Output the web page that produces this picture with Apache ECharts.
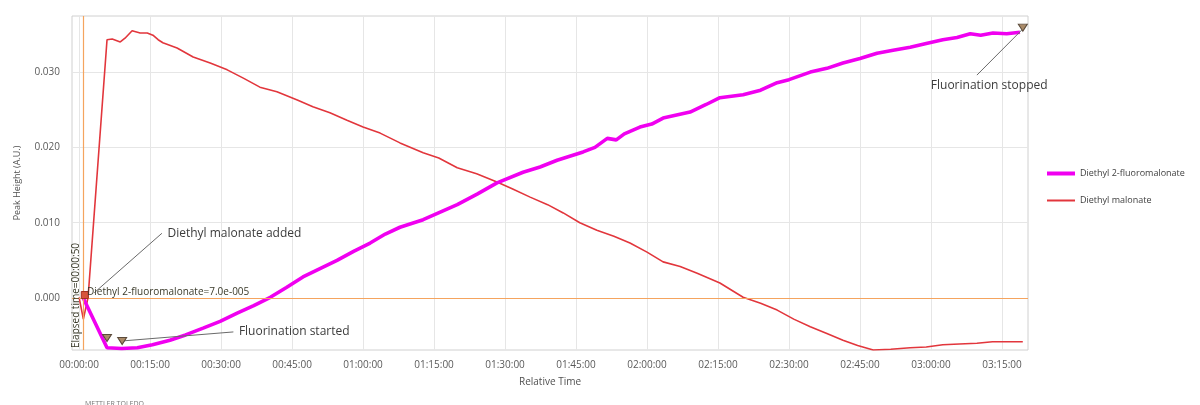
<!DOCTYPE html>
<html><head><meta charset="utf-8">
<script src="https://cdn.jsdelivr.net/npm/echarts@6/dist/echarts.min.js"></script>
<style>html,body{margin:0;padding:0;background:#fff}#c{width:1200px;height:405px}</style>
</head><body><div id="c"></div>
<script>
// ---------- data ----------
const seriesNames = ['Diethyl 2-fluoromalonate', 'Diethyl malonate'];
const xTickMinutes = [0, 15, 30, 45, 60, 75, 90, 105, 120, 135, 150, 165, 180, 195];
const xTickLabels = ['00:00:00','00:15:00','00:30:00','00:45:00','01:00:00','01:15:00','01:30:00',
  '01:45:00','02:00:00','02:15:00','02:30:00','02:45:00','03:00:00','03:15:00'];
const yTickValues = [0, 0.01, 0.02, 0.03];
const yTickLabels = ['0.000', '0.010', '0.020', '0.030'];

// Diethyl 2-fluoromalonate (minutes, A.U.)
const fluoroTime  = [0.83, 5.9, 9.0, 12.3, 15.5, 19.2, 22.5, 26.2, 29.8, 33.4, 36.9, 40.4, 43.8, 47.3, 50.9, 54.5, 58.0, 61.5, 64.7, 67.8,
  72.7, 76.3, 79.9, 84.1, 88.3, 93.8, 97.4, 101.0, 106.5, 109.0, 111.6, 113.5, 115.2, 118.5, 121.0, 123.4, 129.1, 132.5, 135.4, 140.3,
  144.0, 147.5, 150.0, 154.5, 158.0, 161.4, 165.0, 168.6, 172.0, 175.6, 179.0, 182.5, 185.5, 188.3, 190.5, 193.1, 196.0, 198.8];
const fluoroValue = [0.00007, -0.0066, -0.0067, -0.0066, -0.0062, -0.0056, -0.0049, -0.0040, -0.0031, -0.0020, -0.0010, 0.0001, 0.0014, 0.0028, 0.0039, 0.0050, 0.0062, 0.0073, 0.0085, 0.0094,
  0.0104, 0.0114, 0.0124, 0.0138, 0.0153, 0.0167, 0.0174, 0.0183, 0.0194, 0.0200, 0.0212, 0.0210, 0.0218, 0.0227, 0.0231, 0.0239, 0.0247, 0.0257, 0.0266, 0.0270,
  0.0276, 0.0286, 0.0290, 0.0300, 0.0305, 0.0312, 0.0318, 0.0325, 0.0329, 0.0333, 0.0338, 0.0343, 0.0346, 0.0351, 0.0349, 0.0352, 0.0351, 0.0353];

// Diethyl malonate (minutes, A.U.)
const malonateTime  = [0, 0.9, 1.9, 5.9, 7.0, 8.7, 9.7, 11.2, 12.9, 14.4, 15.6, 16.7, 17.7, 20.7, 24.1, 27.7, 31.3, 34.7, 38.2, 41.8,
  46.1, 49.4, 53.0, 56.6, 60.0, 63.6, 67.8, 72.7, 76.0, 79.9, 84.0, 88.3, 91.5, 95.3, 99.0, 102.3, 105.8, 109.4, 113.0, 116.4,
  120.0, 123.4, 127.0, 130.6, 135.4, 140.3, 144.0, 147.5, 151.0, 154.5, 158.0, 161.4, 164.5, 167.8, 171.5, 175.6, 179.0, 182.5, 186.0, 189.7, 193.0, 196.7, 199.4];
const malonateValue = [0.0001, -0.0028, 0.0001, 0.0343, 0.0344, 0.0340, 0.0345, 0.0355, 0.0352, 0.0352, 0.0349, 0.0343, 0.0339, 0.0332, 0.0320, 0.0312, 0.0303, 0.0292, 0.0280, 0.0274,
  0.0263, 0.0254, 0.0246, 0.0236, 0.0227, 0.0219, 0.0206, 0.0193, 0.0186, 0.0173, 0.0165, 0.0154, 0.0145, 0.0134, 0.0124, 0.0113, 0.0100, 0.0090, 0.0082, 0.0073,
  0.0061, 0.0048, 0.0042, 0.0033, 0.0020, 0.0001, -0.0007, -0.0016, -0.0028, -0.0038, -0.0047, -0.0056, -0.0063, -0.0069, -0.0068, -0.0066, -0.0065, -0.0062, -0.0061, -0.0060, -0.0058, -0.0058, -0.0058];

// cursor / event annotations
const cursorTime = 0.83;
const cursorValue = 0.00007;
const cursorTimeLabel = 'Elapsed time=00:00:50';
const cursorValueLabel = 'Diethyl 2-fluoromalonate=7.0e-005';
const eventMarkers = [[5.9, -0.0053], [9.1, -0.0057], [199.4, 0.0359]];
const startMarker = [1.2, 0.0004];
const notes = [
  { text: 'Diethyl malonate added', from: [3.2, 0.0007], to: [17.5, 0.0086], pos: 'right' },
  { text: 'Fluorination started',   from: [9.1, -0.0057], to: [32.6, -0.0045], pos: 'right' },
  { text: 'Fluorination stopped',   from: [199.2, 0.0356], to: [189.7, 0.0296], pos: 'inside', textAt: [192.3, 0.0282] }
];

// ---------- chart ----------
const zip = (a, b) => a.map((t, i) => [t, b[i]]);
const chart = echarts.init(document.getElementById('c'), null, { renderer: 'canvas' });
const labelFont = { fontFamily: 'Open Sans', fontSize: 10, color: '#5a5a5a' };
const noteFont = { fontFamily: 'Open Sans', fontSize: 12, color: '#3c3c3c' };
const orange = '#f5a45e';

chart.setOption({
  animation: false,
  backgroundColor: '#fff',
  title: {
    text: 'METTLER TOLEDO', left: 80, top: 395,
    textStyle: { fontFamily: 'Open Sans', fontSize: 7, fontWeight: 'normal', color: '#777' }
  },
  grid: { left: 72, right: 172, top: 16, bottom: 55, show: true, borderColor: '#d0d0d0', borderWidth: 1 },
  legend: [
    { data: [seriesNames[0]], orient: 'vertical', left: 1042, top: 164, icon: 'rect', itemWidth: 28, itemHeight: 4, itemGap: 4,
      textStyle: { fontFamily: 'Open Sans', fontSize: 9, color: '#404040' } },
    { data: [seriesNames[1]], orient: 'vertical', left: 1042, top: 191, icon: 'rect', itemWidth: 28, itemHeight: 2,
      textStyle: { fontFamily: 'Open Sans', fontSize: 9, color: '#404040' } }
  ],
  xAxis: {
    type: 'value', min: -1.5, max: 200.5,
    name: 'Relative Time', nameLocation: 'middle', nameGap: 27,
    nameTextStyle: { fontFamily: 'Open Sans', fontSize: 10, color: '#505050' },
    axisLine: { show: false, onZero: false }, axisTick: { show: false, customValues: xTickMinutes },
    axisLabel: Object.assign({ customValues: xTickMinutes, margin: 10,
      formatter: v => xTickLabels[xTickMinutes.indexOf(Math.round(v))] || '' }, labelFont),
    splitLine: { show: true, lineStyle: { color: '#e6e6e6', width: 1 } }
  },
  yAxis: {
    type: 'value', min: -0.0069, max: 0.03745,
    name: 'Peak Height (A.U.)', nameLocation: 'middle', nameGap: 50,
    nameTextStyle: { fontFamily: 'Open Sans', fontSize: 9, color: '#505050' },
    axisLine: { show: false, onZero: false }, axisTick: { show: false, customValues: yTickValues },
    axisLabel: Object.assign({ customValues: yTickValues, margin: 12,
      formatter: v => { const i = yTickValues.findIndex(t => Math.abs(t - v) < 1e-9); return i >= 0 ? yTickLabels[i] : ''; } }, labelFont),
    splitLine: { show: true, lineStyle: { color: '#e6e6e6', width: 1 } }
  },
  series: [
    {
      name: seriesNames[1], type: 'line', data: zip(malonateTime, malonateValue),
      showSymbol: false, symbol: 'none', z: 3,
      lineStyle: { color: '#e2363c', width: 1.6 }, itemStyle: { color: '#e2363c' }
    },
    {
      name: seriesNames[0], type: 'line', data: zip(fluoroTime, fluoroValue),
      showSymbol: false, symbol: 'none', z: 4,
      lineStyle: { color: '#f000f0', width: 3.6 }, itemStyle: { color: '#f000f0' },
      markLine: {
        silent: true, symbol: 'none', animation: false,
        lineStyle: { color: orange, width: 1, type: 'solid' },
        data: [
          { xAxis: cursorTime, lineStyle: { color: orange, width: 1.2, type: 'solid' },
            label: { show: true, position: 'insideStartTop', formatter: cursorTimeLabel, distance: 2,
              fontFamily: 'Open Sans', fontSize: 10, color: '#3a3a2a' } },
          { yAxis: cursorValue, lineStyle: { color: orange, width: 1, type: 'solid' },
            label: { show: true, position: 'insideStartTop', formatter: cursorValueLabel, distance: 1,
              fontFamily: 'Open Sans', fontSize: 10, color: '#3a3a2a', padding: [0, 0, 0, 14] } }
        ].concat(notes.map(n => [
          { coord: n.from, lineStyle: { color: '#6a6a6a', width: 1, type: 'solid' }, label: { show: false } },
          { coord: n.to }
        ]))
      },
      markPoint: {
        silent: true, animation: false,
        data: eventMarkers.map(p => ({
          coord: p, symbol: 'triangle', symbolRotate: 180, symbolSize: [9, 7],
          itemStyle: { color: '#a98a68', borderColor: '#5a4a3a', borderWidth: 1 }, label: { show: false }
        })).concat([{
          coord: startMarker, symbol: 'rect', symbolSize: [7, 7],
          itemStyle: { color: '#d8553a', borderColor: '#a03020', borderWidth: 1 }, label: { show: false }
        }]).concat(notes.map(n => ({
          coord: n.textAt || n.to, symbol: 'circle', symbolSize: 1,
          itemStyle: { color: 'rgba(0,0,0,0)' },
          label: Object.assign({ show: true, position: n.pos, distance: 5, formatter: n.text }, noteFont)
        })))
      }
    }
  ]
});
</script></body></html>
